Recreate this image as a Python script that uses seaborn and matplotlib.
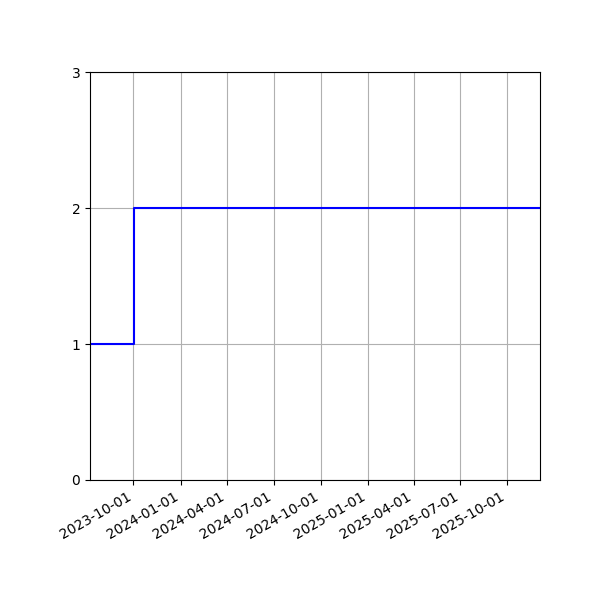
import pandas as pd
import matplotlib
matplotlib.use('Agg')
import matplotlib.pyplot as plt
import matplotlib.dates as mdates
import seaborn as sns

# step series: value changes at each date and holds until the next one
dates = ['2023-07-08', '2023-10-02', '2025-12-04']
values = [1, 2, 2]

df = pd.DataFrame({'date': pd.to_datetime(dates), 'value': values})

fig, ax = plt.subplots(figsize=(6, 6), dpi=100)
sns.lineplot(data=df, x='date', y='value', ax=ax, color='blue',
             drawstyle='steps-post', linewidth=1.5)

ax.set_xlim(df['date'].min(), df['date'].max())
ax.set_ylim(0, 3)
ax.set_yticks([0, 1, 2, 3])
ax.xaxis.set_major_locator(mdates.MonthLocator(bymonth=[1, 4, 7, 10]))
ax.xaxis.set_major_formatter(mdates.DateFormatter('%Y-%m-%d'))
ax.set_xlabel('')
ax.set_ylabel('')
ax.grid(True)

fig.autofmt_xdate()
fig.subplots_adjust(left=0.15, right=0.9, top=0.88, bottom=0.2)
fig.savefig('out.png')
